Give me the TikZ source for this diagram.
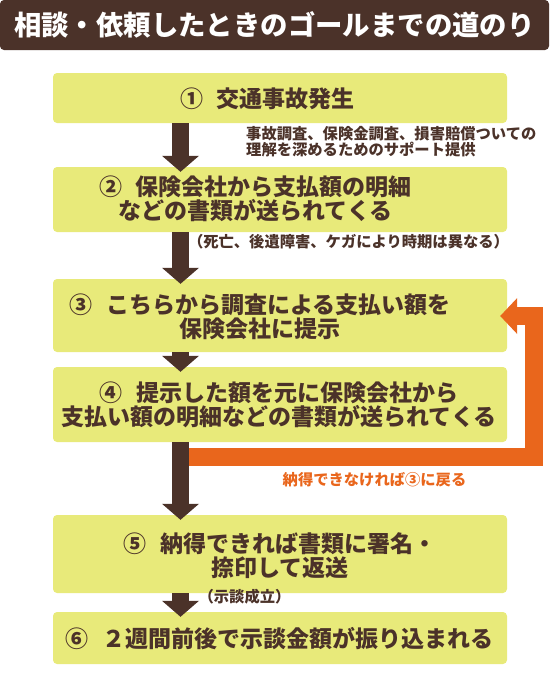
\documentclass[tikz,border=0pt]{standalone}
\usepackage{fontspec}
\setmainfont{Noto Sans CJK JP}
\usepackage{xcolor}
\usetikzlibrary{arrows.meta,positioning}

\definecolor{barbrown}{HTML}{4B3229}
\definecolor{boxyellow}{HTML}{E8EA7A}
\definecolor{redoorange}{HTML}{E9661C}

\begin{document}
\begin{tikzpicture}[x=1pt,y=-1pt,
          titlebar/.style={fill=barbrown,rounded corners=4pt,minimum width=549pt,minimum height=50pt,inner sep=0pt,
            text=white,font=\fontsize{27.4}{28}\selectfont\bfseries},
          stepbox/.style={fill=boxyellow,rounded corners=4pt,minimum width=454pt,inner sep=0pt},
          steptxt/.style={text=barbrown,align=center,inner sep=0pt,font=\fontsize{23}{24}\selectfont\bfseries},
          note/.style={text=barbrown,align=left,inner sep=0pt,font=\fontsize{15.3}{15.4}\selectfont\bfseries},
          flow/.style={barbrown,line width=17pt,-{Triangle[width=37pt,length=16pt,line width=0pt]},shorten >=-5pt},
          redo/.style={redoorange,line width=18pt,-{Triangle[width=36pt,length=17pt,line width=0pt]},shorten >=-7pt}]
        \useasboundingbox (0,0) rectangle (550,689);
        \node[titlebar] (title) at (274.5,25) {相談・依頼したときのゴールまでの道のり};
        \node[stepbox,minimum height=50pt] (box1) at (280,98)    {};
        \node[stepbox,minimum height=65pt] (box2) at (280,199.5) {};
        \node[stepbox,minimum height=73pt] (box3) at (280,315.5) {};
        \node[stepbox,minimum height=75pt] (box4) at (280,404.5) {};
        \node[stepbox,minimum height=78pt] (box5) at (280,554)   {};
        \node[stepbox,minimum height=52pt] (box6) at (280,638)   {};
        \node[steptxt] (t1) at (267.5,99)  {①\hspace{.6em}交通事故発生};
        \node[steptxt] (t2) at (255.5,199) {②\hspace{.6em}保険会社から支払額の明細\\などの書類が送られてくる};
        \node[steptxt] (t3) at (260,317)   {③\hspace{.6em}こちらから調査による支払い額を\\保険会社に提示};
        \node[steptxt] (t4) at (279,405)   {④\hspace{.6em}提示した額を元に保険会社から\\支払い額の明細などの書類が送られてくる};
        \node[steptxt] (t5) at (280,556)   {⑤\hspace{.6em}納得できれば書類に署名・\\捺印して返送};
        \node[steptxt] (t6) at (279.5,639) {⑥\hspace{.6em}２週間前後で示談金額が振り込まれる};
        \node[note,anchor=west] (n1) at (246,141.5) {事故調査、保険金調査、損害賠償ついての\\理解を深めるためのサポート提供};
        \node[note] (n2) at (348.5,242) {（死亡、後遺障害、ケガにより時期は異なる）};
        \node[note] (n3) at (244.5,597) {（示談成立）};
        \node[note,text=redoorange] (n4) at (374.5,480) {納得できなければ③に戻る};
        \coordinate (ax) at (180.5,0);
        \coordinate (back) at (180.5,457);
        \coordinate (turn) at (534,316);
        \draw[redo] (back) -| (turn) -- (turn -| box3.east);
        \draw[flow] (box1.south -| ax) -- (box2.north -| ax);
        \draw[flow] (box2.south -| ax) -- (box3.north -| ax);
        \draw[flow] (box3.south -| ax) -- (box4.north -| ax);
        \draw[flow] (box4.south -| ax) -- (box5.north -| ax);
        \draw[flow] (box5.south -| ax) -- (box6.north -| ax);
      \end{tikzpicture}
\end{document}
